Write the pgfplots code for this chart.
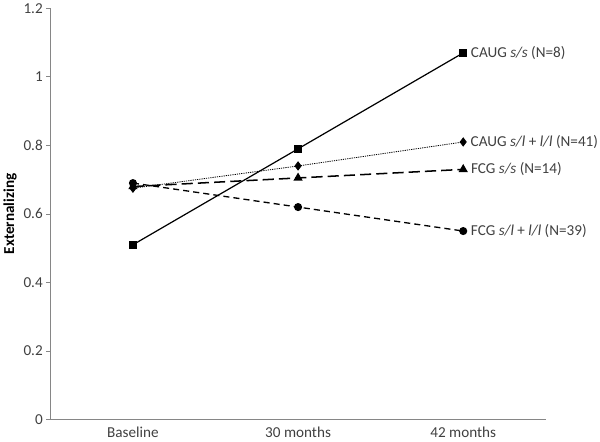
\documentclass[border=0pt]{standalone}
\usepackage{pgfplots}
\pgfplotsset{compat=1.18}
\usepackage{fontspec}
\setmainfont{Carlito}
\definecolor{axgray}{HTML}{868686}
\definecolor{txtgray}{HTML}{404040}
\begin{document}
\begin{tikzpicture}[x=1bp,y=1bp]
\begin{axis}[
  scale only axis,
  width=488bp, height=405bp,
  xmin=-0.5, xmax=2.5, ymin=0, ymax=1.2,
  axis lines*=left,
  axis line style={draw=axgray, line width=0.8bp},
  xtick={0,1,2},
  xticklabels={Baseline,30 months,42 months},
  x tick style={draw=none},
  extra x ticks={0.5,1.5,2.5},
  extra x tick labels={},
  extra x tick style={tick style={draw=axgray, line width=0.8bp}, major tick length=4bp},
  ytick={0,0.2,...,1.2},
  y tick style={draw=axgray, line width=0.8bp},
  major tick length=4bp,
  tick align=outside,
  yticklabel style={/pgf/number format/fixed, /pgf/number format/precision=1},
  /pgf/number format/assume math mode=true,
  tick label style={font=\fontsize{15}{18}\selectfont, text=txtgray},
  ylabel={\textbf{Externalizing}},
  ylabel style={font=\fontsize{15}{18}\selectfont},
  every axis plot/.append style={black, line width=1.2bp},
  clip=false,
]
\addplot[solid, mark=square*, mark size=3.5bp] coordinates {(0,0.51) (1,0.79) (2,1.07)}
  node[pos=1, right, xshift=5bp, font=\fontsize{15}{18}\selectfont, text=txtgray, inner sep=2bp] {CAUG \textit{s/s} (N=8)};
\addplot[densely dotted, line width=0.8bp, mark=diamond*, mark size=4bp, mark options={solid}] coordinates {(0,0.675) (1,0.74) (2,0.81)}
  node[pos=1, right, xshift=5bp, font=\fontsize{15}{18}\selectfont, text=txtgray, inner sep=2bp] {CAUG \textit{s/l} + \textit{l/l} (N=41)};
\addplot[dash pattern=on 11bp off 5bp, line width=1.5bp, mark=triangle*, mark size=3.8bp, mark options={solid}] coordinates {(0,0.68) (1,0.705) (2,0.73)}
  node[pos=1, right, xshift=5bp, font=\fontsize{15}{18}\selectfont, text=txtgray, inner sep=2bp] {FCG \textit{s/s} (N=14)};
\addplot[dash pattern=on 6bp off 4bp, line width=1.3bp, mark=*, mark size=3.3bp, mark options={solid}] coordinates {(0,0.69) (1,0.62) (2,0.55)}
  node[pos=1, right, xshift=5bp, font=\fontsize{15}{18}\selectfont, text=txtgray, inner sep=2bp] {FCG \textit{s/l} + \textit{l/l} (N=39)};
\end{axis}
\end{tikzpicture}
\end{document}
